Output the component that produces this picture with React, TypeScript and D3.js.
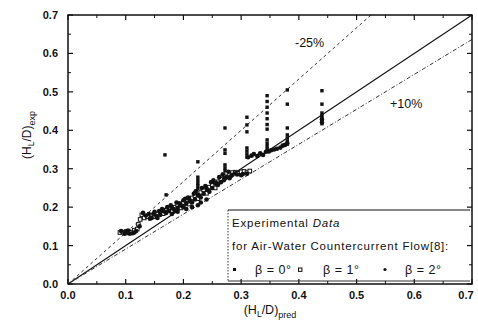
import React from 'react';
import * as d3 from 'd3';

// beta = 0 deg : filled squares (mostly the vertical columns)
const beta0: [number, number][] = [
  [0.168, 0.336], [0.17, 0.232], [0.225, 0.318], [0.225, 0.278], [0.225, 0.27], [0.225, 0.262],
  [0.225, 0.255], [0.225, 0.248], [0.272, 0.406], [0.272, 0.349], [0.272, 0.34], [0.272, 0.31],
  [0.272, 0.302], [0.272, 0.295], [0.31, 0.434], [0.31, 0.414], [0.31, 0.396], [0.31, 0.354],
  [0.31, 0.346], [0.31, 0.338], [0.31, 0.33], [0.345, 0.49], [0.345, 0.475], [0.345, 0.46],
  [0.345, 0.445], [0.345, 0.43], [0.345, 0.415], [0.345, 0.403], [0.345, 0.375], [0.345, 0.366],
  [0.345, 0.358], [0.345, 0.35], [0.38, 0.505], [0.38, 0.468], [0.38, 0.406], [0.38, 0.388],
  [0.38, 0.38], [0.38, 0.372], [0.38, 0.364], [0.44, 0.503], [0.44, 0.468], [0.44, 0.445],
  [0.44, 0.438], [0.44, 0.431], [0.44, 0.424], [0.44, 0.417],
];

// beta = 1 deg : open squares
const beta1: [number, number][] = [
  [0.09, 0.134], [0.095, 0.135], [0.1, 0.133], [0.105, 0.136], [0.11, 0.135], [0.115, 0.14],
  [0.12, 0.143], [0.122, 0.155], [0.125, 0.168], [0.128, 0.18], [0.132, 0.172], [0.138, 0.175],
  [0.145, 0.178], [0.15, 0.175], [0.155, 0.182], [0.16, 0.186], [0.165, 0.183], [0.17, 0.192],
  [0.175, 0.196], [0.18, 0.19], [0.185, 0.2], [0.19, 0.205], [0.195, 0.198], [0.2, 0.212],
  [0.205, 0.218], [0.21, 0.208], [0.215, 0.224], [0.22, 0.23], [0.225, 0.222], [0.23, 0.238],
  [0.235, 0.245], [0.24, 0.236], [0.245, 0.252], [0.25, 0.258], [0.255, 0.25], [0.26, 0.266],
  [0.265, 0.272], [0.27, 0.284], [0.275, 0.288], [0.28, 0.286], [0.285, 0.29], [0.29, 0.291],
  [0.295, 0.288], [0.3, 0.292], [0.305, 0.293], [0.31, 0.29], [0.315, 0.294],
];

// beta = 2 deg : small filled dots
const beta2: [number, number][] = [
  [0.092, 0.138], [0.098, 0.131], [0.104, 0.139], [0.112, 0.132], [0.118, 0.138], [0.124, 0.15],
  [0.13, 0.185], [0.135, 0.178], [0.142, 0.17], [0.148, 0.183], [0.153, 0.177], [0.158, 0.19],
  [0.163, 0.195], [0.168, 0.188], [0.172, 0.2], [0.178, 0.205], [0.183, 0.195], [0.188, 0.212],
  [0.193, 0.21], [0.198, 0.203], [0.203, 0.222], [0.208, 0.225], [0.212, 0.215], [0.218, 0.235],
  [0.222, 0.242], [0.227, 0.23], [0.232, 0.25], [0.238, 0.255], [0.242, 0.245], [0.248, 0.265],
  [0.252, 0.27], [0.258, 0.262], [0.262, 0.278], [0.268, 0.285], [0.272, 0.275], [0.278, 0.292],
  [0.283, 0.282], [0.293, 0.285], [0.303, 0.286], [0.312, 0.33], [0.318, 0.334], [0.322, 0.338],
  [0.328, 0.333], [0.333, 0.34], [0.338, 0.336], [0.343, 0.344], [0.348, 0.345], [0.352, 0.348],
  [0.357, 0.35], [0.362, 0.352], [0.368, 0.355], [0.372, 0.36], [0.376, 0.362], [0.38, 0.366],
  [0.205, 0.195], [0.215, 0.2], [0.225, 0.205], [0.23, 0.212], [0.24, 0.22], [0.18, 0.182],
  [0.19, 0.188], [0.44, 0.42], [0.44, 0.428],
  [0.14, 0.182], [0.145, 0.172], [0.15, 0.188], [0.155, 0.172], [0.16, 0.18], [0.165, 0.19],
  [0.17, 0.185], [0.175, 0.19], [0.18, 0.198], [0.185, 0.19], [0.19, 0.198], [0.195, 0.205],
  [0.2, 0.2], [0.2, 0.218], [0.205, 0.21], [0.21, 0.222], [0.215, 0.212], [0.22, 0.22],
  [0.22, 0.238], [0.225, 0.232], [0.23, 0.225], [0.235, 0.235], [0.24, 0.248], [0.245, 0.24],
  [0.25, 0.25], [0.255, 0.262], [0.26, 0.258], [0.265, 0.265], [0.27, 0.27], [0.275, 0.278],
  [0.28, 0.275], [0.285, 0.284], [0.29, 0.288], [0.3, 0.283], [0.31, 0.287], [0.1, 0.137],
  [0.107, 0.131], [0.115, 0.134],
];

const xTicks = [0, 0.1, 0.2, 0.3, 0.4, 0.5, 0.6, 0.7];
const yTicks = [0, 0.1, 0.2, 0.3, 0.4, 0.5, 0.6, 0.7];
const minorTicks = [0.05, 0.15, 0.25, 0.35, 0.45, 0.55, 0.65];

// reference lines: exp = pred / factor
const lineFactors = { ideal: 1, minus25: 0.75, plus10: 1.1 };

const font = 'Arial, "Liberation Sans", Helvetica, sans-serif';

export default function App() {
  const left = 68, right = 472, top = 15, bottom = 284;
  const x = d3.scaleLinear().domain([0, 0.7]).range([left, right]);
  const y = d3.scaleLinear().domain([0, 0.7]).range([bottom, top]);
  const fmt = d3.format('.1f');

  const refLine = (f: number) => {
    const xe = Math.min(0.7, 0.7 * f);
    return d3.line()([[x(0), y(0)], [x(xe), y(xe / f)]]) as string;
  };

  return (
    <svg width={478} height={331} style={{ position: 'absolute', left: 0, top: 0, background: '#fff' }}>
      <g fontFamily={font} fill="#111">
        {/* reference lines */}
        <path d={refLine(lineFactors.ideal)} stroke="#111" strokeWidth={1.1} fill="none" />
        <path d={refLine(lineFactors.minus25)} stroke="#333" strokeWidth={1} strokeDasharray="3,3" fill="none" />
        <path d={refLine(lineFactors.plus10)} stroke="#333" strokeWidth={1} strokeDasharray="4,2,1,2" fill="none" />

        {/* data */}
        {beta1.map((d, i) => (
          <rect key={'b1' + i} x={x(d[0]) - 1.8} y={y(d[1]) - 1.8} width={3.6} height={3.6}
            fill="#fff" stroke="#111" strokeWidth={1} />
        ))}
        {beta2.map((d, i) => (
          <circle key={'b2' + i} cx={x(d[0])} cy={y(d[1])} r={2.3} fill="#111" />
        ))}
        {beta0.map((d, i) => (
          <rect key={'b0' + i} x={x(d[0]) - 1.7} y={y(d[1]) - 1.7} width={3.4} height={3.4} fill="#111" />
        ))}

        {/* legend */}
        <rect x={228} y={210} width={242} height={72} fill="#fff" stroke="none" />
        <line x1={228} x2={470} y1={210} y2={210} stroke="#111" strokeWidth={1} />
        <line x1={228} x2={228} y1={210} y2={282} stroke="#333" strokeWidth={1} strokeDasharray="1.5,1.5" />
        <line x1={228} x2={470} y1={281} y2={281} stroke="#333" strokeWidth={1} />
        <text x={232} y={227} fontSize={11.5} letterSpacing={0.8}>Experimental <tspan fontStyle="italic">Data</tspan></text>
        <text x={232} y={250} fontSize={11.5} letterSpacing={0.8}>for Air-Water Countercurrent Flow[8]:</text>
        <rect x={233} y={268} width={3} height={3} fill="#111" />
        <text x={255} y={274} fontSize={12.5} letterSpacing={0.5}>β = 0°</text>
        <rect x={298.5} y={268} width={3.4} height={3.4} fill="#fff" stroke="#111" />
        <text x={323} y={274} fontSize={12.5} letterSpacing={0.5}>β = 1°</text>
        <circle cx={385} cy={269.5} r={1.6} fill="#111" />
        <text x={405} y={274} fontSize={12.5} letterSpacing={0.5}>β = 2°</text>

        {/* frame */}
        <rect x={left} y={top} width={right - left} height={bottom - top} fill="none" stroke="#111" strokeWidth={1.5} />

        {/* ticks */}
        {xTicks.map(t => (
          <g key={'xt' + t}>
            <line x1={x(t)} x2={x(t)} y1={bottom} y2={bottom - 5} stroke="#111" strokeWidth={1.2} />
            <line x1={x(t)} x2={x(t)} y1={top} y2={top + 5} stroke="#111" strokeWidth={1.2} />
            <text x={Math.min(x(t), 466)} y={299} fontSize={11} fontWeight="bold" textAnchor="middle">{fmt(t)}</text>
          </g>
        ))}
        {yTicks.map(t => (
          <g key={'yt' + t}>
            <line x1={left} x2={left + 5} y1={y(t)} y2={y(t)} stroke="#111" strokeWidth={1.2} />
            <line x1={right} x2={right - 5} y1={y(t)} y2={y(t)} stroke="#111" strokeWidth={1.2} />
            <text x={58} y={y(t) + 4} fontSize={11} fontWeight="bold" textAnchor="end">{fmt(t)}</text>
          </g>
        ))}
        {minorTicks.map(t => (
          <g key={'mt' + t}>
            <line x1={x(t)} x2={x(t)} y1={bottom} y2={bottom - 3} stroke="#111" />
            <line x1={x(t)} x2={x(t)} y1={top} y2={top + 3} stroke="#111" />
            <line x1={left} x2={left + 3} y1={y(t)} y2={y(t)} stroke="#111" />
            <line x1={right} x2={right - 3} y1={y(t)} y2={y(t)} stroke="#111" />
          </g>
        ))}

        {/* annotations */}
        <text x={295} y={47} fontSize={12.5}>-25%</text>
        <text x={390} y={108} fontSize={12.5}>+10%</text>

        {/* axis titles */}
        <text x={270} y={314} fontSize={12.5} textAnchor="middle">
          (H<tspan fontSize={8.5} dy={3}>L</tspan><tspan dy={-3}>/D)</tspan><tspan fontSize={9} dy={4}>pred</tspan>
        </text>
        <text transform="translate(31,135) rotate(-90)" fontSize={12} textAnchor="middle">
          (H<tspan fontSize={8.5} dy={3}>L</tspan><tspan dy={-3}>/D)</tspan><tspan fontSize={9} dy={4}>exp</tspan>
        </text>
      </g>
    </svg>
  );
}
